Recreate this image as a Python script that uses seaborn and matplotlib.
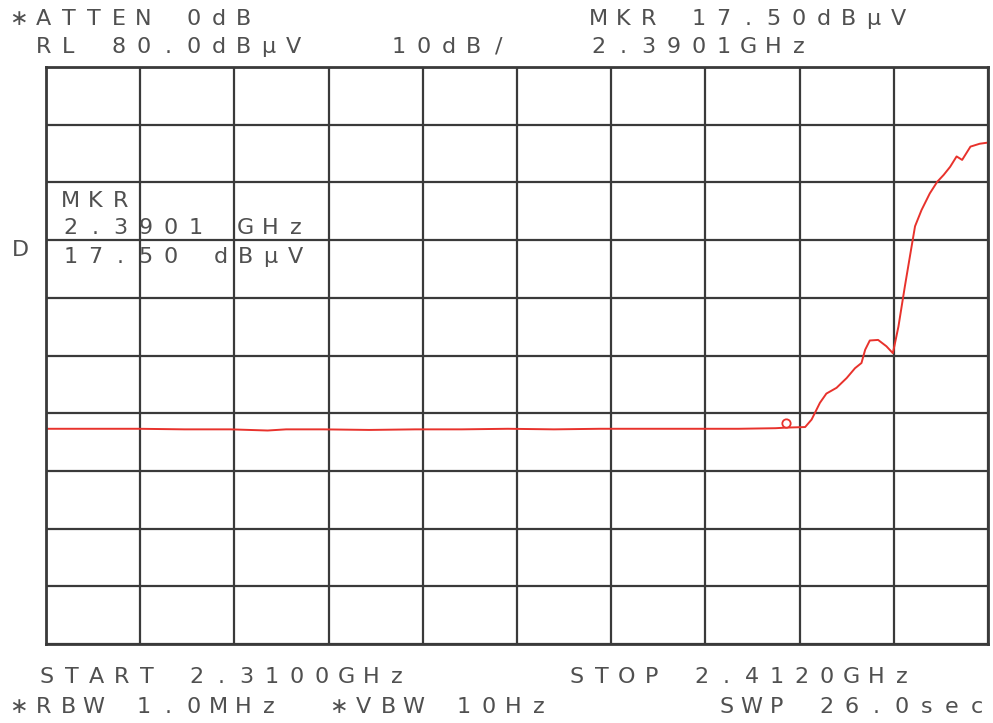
import matplotlib
matplotlib.use("Agg")
import matplotlib.pyplot as plt
import matplotlib.transforms as mtransforms
import numpy as np
import pandas as pd
import seaborn as sns

# ---------------- data ----------------
freq_ghz = [2.3100, 2.3150, 2.3200, 2.3250, 2.3300, 2.3340, 2.3360, 2.3400,
            2.3450, 2.3500, 2.3550, 2.3600, 2.3650, 2.3700, 2.3750, 2.3800,
            2.3850, 2.3890, 2.3901, 2.3922, 2.3929, 2.3938, 2.3945, 2.3956,
            2.3967, 2.3976, 2.3983, 2.3987, 2.3992, 2.4001, 2.4010, 2.4017,
            2.4023, 2.4030, 2.4036, 2.4041, 2.4048, 2.4057, 2.4065, 2.4072,
            2.4079, 2.4086, 2.4092, 2.4101, 2.4111, 2.4120]
level_dbuv = [17.3, 17.3, 17.3, 17.2, 17.2, 17.0, 17.2, 17.2,
              17.1, 17.2, 17.2, 17.3, 17.2, 17.3, 17.3, 17.3,
              17.3, 17.4, 17.5, 17.6, 18.9, 21.8, 23.4, 24.4,
              26.1, 27.8, 28.7, 31.0, 32.6, 32.7, 31.6, 30.4,
              35.0, 42.0, 47.7, 52.4, 55.2, 58.1, 60.1, 61.3,
              62.7, 64.5, 63.9, 66.2, 66.7, 66.9]

marker_freq = [2.3901]
marker_level = [17.50]

start_ghz = 2.3100
stop_ghz = 2.4120
ref_level = 80.0
db_per_div = 10.0
n_div = 10

header_texts = [
    ("\u2217ATTEN 0dB", 10, 19),
    ("MKR 17.50dB\u03bcV", 590, 19),
    ("RL 80.0dB\u03bcV", 35, 47),
    ("10dB/", 390, 47),
    ("2.3901GHz", 590, 47),
]
footer_texts = [
    ("START 2.3100GHz", 38, 677),
    ("STOP 2.4120GHz", 568, 677),
    ("\u2217RBW 1.0MHz", 10, 707),
    ("\u2217VBW 10Hz", 330, 707),
    ("SWP 26.0sec", 718, 707),
]
marker_box_texts = [
    ("MKR", 62, 201),
    ("2.3901 GHz", 62, 228),
    ("17.50 dB\u03bcV", 62, 257),
]
side_label = [("D", 12, 250)]

# ---------------- style ----------------
sns.set_style("white")
plt.rcParams["font.family"] = ["DejaVu Sans", "Noto Sans"]

W, H = 993, 723
fig = plt.figure(figsize=(W / 100, H / 100), dpi=100)
fig.patch.set_facecolor("white")

left, top, right, bottom = 46, 67, 988, 644
ax = fig.add_axes([left / W, 1 - bottom / H, (right - left) / W, (bottom - top) / H])

df = pd.DataFrame({"freq": freq_ghz, "level": level_dbuv})
sns.lineplot(data=df, x="freq", y="level", ax=ax, color="#e8322c",
             linewidth=1.4, sort=False)

# marker (small open circle, drawn just above the trace)
off = mtransforms.offset_copy(ax.transData, fig=fig, x=0, y=5, units="dots")
ax.plot(marker_freq, marker_level, linestyle="none", marker="o",
        markersize=6, markerfacecolor="white", markeredgecolor="#e8322c",
        markeredgewidth=1.3, transform=off, zorder=5)

ax.set_xlim(start_ghz, stop_ghz)
ax.set_ylim(ref_level - n_div * db_per_div, ref_level)
ax.set_xticks(np.linspace(start_ghz, stop_ghz, n_div + 1))
ax.set_yticks(np.linspace(ref_level - n_div * db_per_div, ref_level, n_div + 1))
ax.grid(True, color="#3a3a3a", linewidth=1.6)
ax.tick_params(left=False, bottom=False, labelleft=False, labelbottom=False)
ax.set_xlabel("")
ax.set_ylabel("")
for s in ax.spines.values():
    s.set_color("#3a3a3a")
    s.set_linewidth(2.0)
ax.set_axisbelow(True)


def spaced(text, x0, yc, pitch=25.0, size=16, color="#505050"):
    """Draw text with fixed character pitch (plotter style)."""
    for i, ch in enumerate(text):
        if ch == " ":
            continue
        cx = x0 + i * pitch + 8.5
        fig.text(cx / W, 1 - yc / H, ch, ha="center", va="center",
                 fontsize=size, color=color,
                 family=["DejaVu Sans", "Noto Sans"])


for t, x, y in header_texts + footer_texts + marker_box_texts + side_label:
    spaced(t, x, y)

fig.savefig("out.png", dpi=100, facecolor="white")
